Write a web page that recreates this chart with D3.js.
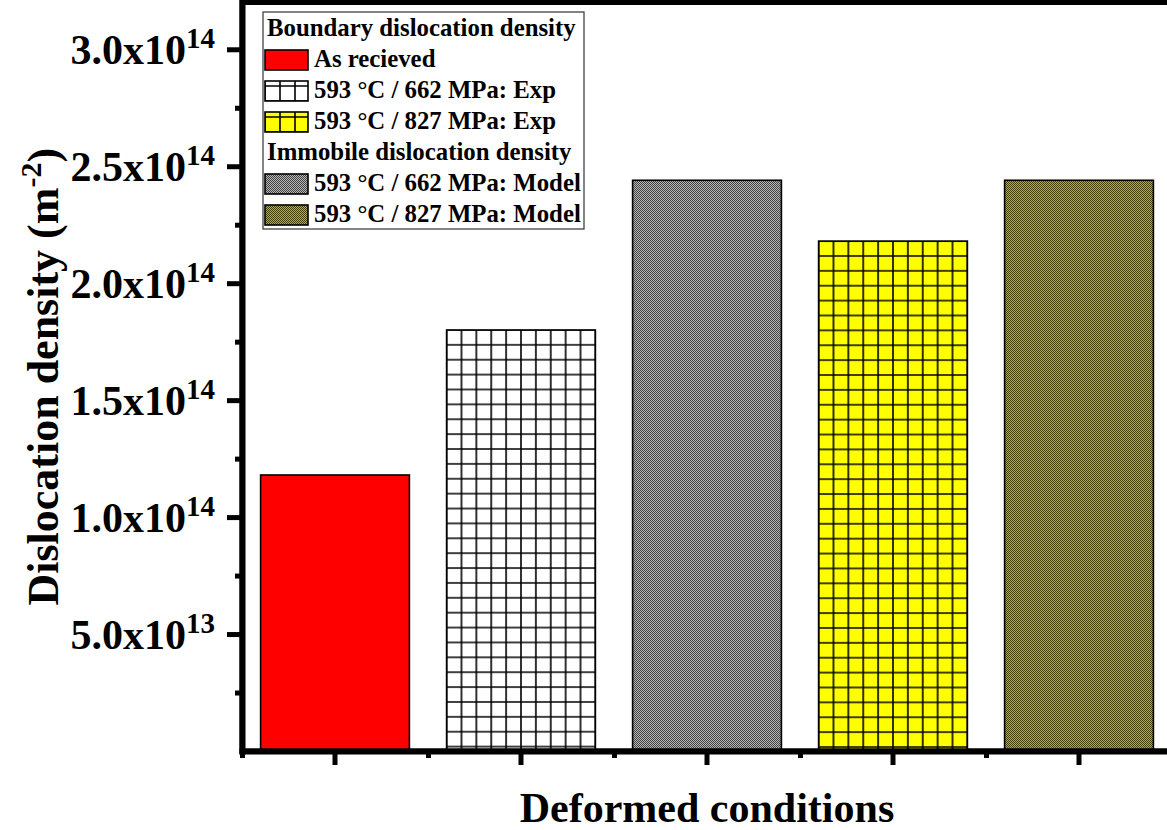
<!DOCTYPE html>
<html>
<head>
<meta charset="utf-8">
<script src="https://cdn.jsdelivr.net/npm/d3@7"></script>
<style>
  body { margin: 0; background: #fff; }
  svg { display: block; }
  text { font-family: "Liberation Serif", "Times New Roman", Times, serif; font-weight: bold; fill: #000; }
</style>
</head>
<body>
<svg id="chart" width="1167" height="830"></svg>
<script>
// ---- data ----
const categories = ["As recieved", "593 °C / 662 MPa: Exp", "593 °C / 662 MPa: Model", "593 °C / 827 MPa: Exp", "593 °C / 827 MPa: Model"];
const densityValues = [1.18e14, 1.80e14, 2.44e14, 2.18e14, 2.44e14];
const barStyles = ["red", "gridWhite", "dotsGray", "gridYellow", "dotsOlive"];

const yTickValues = [5e13, 1e14, 1.5e14, 2e14, 2.5e14, 3e14];
const yTickMantissa = ["5.0", "1.0", "1.5", "2.0", "2.5", "3.0"];
const yTickExponent = ["13", "14", "14", "14", "14", "14"];
const yMinorTicks = [2.5e13, 7.5e13, 1.25e14, 1.75e14, 2.25e14, 2.75e14];

const legendTitles = ["Boundary dislocation density", "Immobile dislocation density"];
const legendRows = [
  { kind: "title", text: legendTitles[0] },
  { kind: "item", text: categories[0], style: "red" },
  { kind: "item", text: categories[1], style: "gridWhite" },
  { kind: "item", text: categories[3], style: "gridYellow" },
  { kind: "title", text: legendTitles[1] },
  { kind: "item", text: categories[2], style: "dotsGray" },
  { kind: "item", text: categories[4], style: "dotsOlive" }
];

const xTitle = "Deformed conditions";
const yTitle = "Dislocation density (m";
const yTitleSup = "-2";

// ---- layout ----
const plot = { left: 242, right: 1172, top: 2.5, bottom: 751 };
const svg = d3.select("#chart");
const defs = svg.append("defs");

const x = d3.scaleBand().domain(categories).range([plot.left, plot.right])
  .paddingInner(0.2).paddingOuter(0.1);
const y = d3.scaleLinear().domain([0, 3.2e14]).range([plot.bottom, plot.top]);

// ---- fills ----
const styleDefs = {
  red:        { type: "solid", fill: "#ff0000" },
  gridWhite:  { type: "grid",  bg: "#ffffff" },
  gridYellow: { type: "grid",  bg: "#ffff00" },
  dotsGray:   { type: "dots",  light: "#b8b8b8", dark: "#404040" },
  dotsOlive:  { type: "dots",  light: "#b8b800", dark: "#404000" }
};

// fine checkered texture (2x2 tile), shared by all marks
Object.entries(styleDefs).forEach(([key, s]) => {
  if (s.type !== "dots") return;
  const p = defs.append("pattern").attr("id", "pat-" + key)
    .attr("patternUnits", "userSpaceOnUse").attr("width", 2).attr("height", 2);
  p.append("rect").attr("width", 2).attr("height", 2).attr("fill", s.light);
  [[0, 0], [1, 1]].forEach(([px, py]) => {
    p.append("rect").attr("x", px).attr("y", py).attr("width", 1).attr("height", 1).attr("fill", s.dark);
  });
});

// square grid hatching anchored to the mark's own corner
let gridCount = 0;
function gridPattern(bg, x0, y0, cell) {
  const id = "grid-" + (gridCount++);
  const p = defs.append("pattern").attr("id", id)
    .attr("patternUnits", "userSpaceOnUse")
    .attr("x", x0).attr("y", y0).attr("width", cell).attr("height", cell);
  p.append("rect").attr("width", cell).attr("height", cell).attr("fill", bg);
  p.append("path")
    .attr("d", `M0,0H${cell}M0,${cell}H${cell}M0,0V${cell}M${cell},0V${cell}`)
    .attr("stroke", "#000").attr("stroke-width", 1.6).attr("fill", "none");
  return `url(#${id})`;
}

function fillFor(style, x0, y0, cell) {
  const s = styleDefs[style];
  if (s.type === "solid") return s.fill;
  if (s.type === "dots") return `url(#pat-${style})`;
  return gridPattern(s.bg, x0, y0, cell);
}

// ---- bars ----
const cellSize = x.bandwidth() / 10;
svg.append("g").selectAll("rect")
  .data(categories)
  .join("rect")
  .attr("x", d => x(d))
  .attr("y", (d, i) => y(densityValues[i]))
  .attr("width", x.bandwidth())
  .attr("height", (d, i) => y(0) - y(densityValues[i]))
  .attr("fill", (d, i) => fillFor(barStyles[i], x(d), y(densityValues[i]), cellSize))
  .attr("stroke", "#000")
  .attr("stroke-width", 1.6);

// ---- frame (top / right) ----
svg.append("rect")
  .attr("x", plot.left).attr("y", plot.top)
  .attr("width", plot.right - plot.left).attr("height", plot.bottom - plot.top)
  .attr("fill", "none").attr("stroke", "#000").attr("stroke-width", 5);

// ---- y axis ----
const gyMinor = svg.append("g").attr("transform", `translate(${plot.left},0)`)
  .call(d3.axisLeft(y).tickValues(yMinorTicks).tickSize(7).tickSizeOuter(0).tickFormat(() => ""));
gyMinor.select(".domain").remove();
gyMinor.selectAll(".tick line").attr("stroke-width", 5);

const gy = svg.append("g").attr("transform", `translate(${plot.left},0)`)
  .call(d3.axisLeft(y).tickValues(yTickValues).tickSize(15).tickSizeOuter(0).tickFormat(() => ""));
gy.select(".domain").attr("stroke-width", 6).attr("stroke-linecap", "square");
gy.selectAll(".tick line").attr("stroke-width", 5);
gy.selectAll(".tick text").remove();
gy.selectAll(".tick").each(function (d) {
  const i = yTickValues.indexOf(d);
  const t = d3.select(this).append("text")
    .attr("x", -27).attr("y", 14)
    .attr("text-anchor", "end")
    .style("font-size", "42px");
  t.append("tspan").text(yTickMantissa[i] + "x10");
  t.append("tspan").attr("dy", -16).style("font-size", "29px").text(yTickExponent[i]);
});

// ---- x axis ----
const xEdges = d3.scaleLinear().domain([0, categories.length]).range([plot.left, plot.right]);
const gxMinor = svg.append("g").attr("transform", `translate(0,${plot.bottom})`)
  .call(d3.axisBottom(xEdges).tickValues(d3.range(categories.length + 1)).tickSize(7).tickSizeOuter(0).tickFormat(() => ""));
gxMinor.select(".domain").remove();
gxMinor.selectAll(".tick line").attr("stroke-width", 5);

const gx = svg.append("g").attr("transform", `translate(0,${plot.bottom})`)
  .call(d3.axisBottom(x).tickSize(14).tickSizeOuter(0).tickFormat(() => ""));
gx.select(".domain").attr("stroke-width", 6).attr("stroke-linecap", "square");
gx.selectAll(".tick line").attr("stroke-width", 5);
gx.selectAll(".tick text").remove();

// ---- axis titles ----
svg.append("text")
  .attr("x", (plot.left + plot.right) / 2).attr("y", 822)
  .attr("text-anchor", "middle")
  .style("font-size", "42px")
  .text(xTitle);

const yt = svg.append("text")
  .attr("transform", `translate(58,${(plot.top + plot.bottom) / 2}) rotate(-90)`)
  .attr("text-anchor", "middle")
  .style("font-size", "44px");
yt.append("tspan").text(yTitle);
yt.append("tspan").attr("dy", -17).style("font-size", "30px").text(yTitleSup);
yt.append("tspan").attr("dy", 17).text(")");

// ---- legend ----
const legend = svg.append("g");
legend.append("rect")
  .attr("x", 263).attr("y", 12).attr("width", 321).attr("height", 217)
  .attr("fill", "#fff").attr("stroke", "#333").attr("stroke-width", 1.2);

legendRows.forEach((r, i) => {
  const base = 36 + 31 * i;
  if (r.kind === "title") {
    legend.append("text").attr("x", 267).attr("y", base).style("font-size", "24.8px").text(r.text);
  } else {
    const sx = 265, sy = base - 17;
    legend.append("rect")
      .attr("x", sx).attr("y", sy).attr("width", 43).attr("height", 20)
      .attr("fill", fillFor(r.style, sx, sy + 5, 15))
      .attr("stroke", "#000").attr("stroke-width", 1.6);
    legend.append("text").attr("x", 314).attr("y", base).style("font-size", "24.8px").text(r.text);
  }
});
</script>
</body>
</html>
